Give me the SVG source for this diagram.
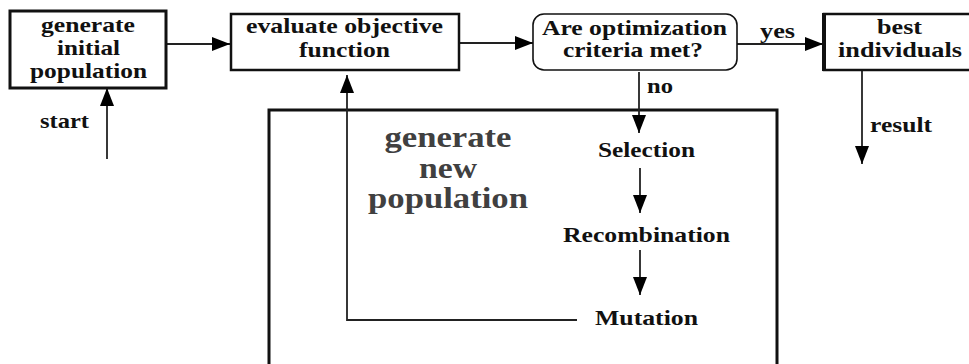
<svg xmlns="http://www.w3.org/2000/svg" width="969" height="364" viewBox="0 0 969 364">
<style>
  .t { font-family: "Liberation Serif", "Times New Roman", serif; font-weight: bold; font-size: 21px; fill: #111; text-anchor: middle; }
  .big { font-size: 29px; fill: #404040; }
  .box { fill: #fff; stroke: #111; }
  .c { fill: none; stroke: #222; stroke-width: 1.8; }
  .a { marker-end: url(#ah); }
</style>
<defs>
  <marker id="ah" markerUnits="userSpaceOnUse" markerWidth="18" markerHeight="14" refX="18" refY="7" orient="auto">
    <path d="M0,0 L18,7 L0,14 z" fill="#000"/>
  </marker>
</defs>
<rect width="969" height="364" fill="#fff"/>

<g id="new-population-frame">
  <rect x="269" y="110" width="508" height="270" fill="none" stroke="#111" stroke-width="3"/>
  <text class="t big" x="448" y="147" textLength="127" lengthAdjust="spacingAndGlyphs">generate</text>
  <text class="t big" x="448" y="178" textLength="58" lengthAdjust="spacingAndGlyphs">new</text>
  <text class="t big" x="448" y="208" textLength="160" lengthAdjust="spacingAndGlyphs">population</text>
</g>

<g id="connectors">
  <line class="c a" x1="107" y1="159" x2="107" y2="88"/>
  <line class="c a" x1="166" y1="44" x2="230" y2="44"/>
  <line class="c a" x1="459" y1="43" x2="533" y2="43"/>
  <line class="c a" x1="737" y1="44" x2="823" y2="44"/>
  <line class="c a" x1="862" y1="70" x2="862" y2="164"/>
  <line class="c a" x1="639" y1="72" x2="639" y2="133"/>
  <line class="c a" x1="640" y1="168" x2="640" y2="213"/>
  <line class="c a" x1="640" y1="250" x2="640" y2="295"/>
  <polyline class="c a" points="577,320 347,320 347,75"/>
  <text class="t" x="64.5" y="128" textLength="49" lengthAdjust="spacingAndGlyphs">start</text>
  <text class="t" x="777.5" y="38" textLength="35" lengthAdjust="spacingAndGlyphs">yes</text>
  <text class="t" x="660" y="93" textLength="26" lengthAdjust="spacingAndGlyphs">no</text>
  <text class="t" x="901" y="132" textLength="62" lengthAdjust="spacingAndGlyphs">result</text>
</g>

<g id="init">
  <rect class="box" x="10" y="11" width="156" height="77" stroke-width="3"/>
  <text class="t" x="88" y="32" textLength="94" lengthAdjust="spacingAndGlyphs">generate</text>
  <text class="t" x="88.5" y="55" textLength="63" lengthAdjust="spacingAndGlyphs">initial</text>
  <text class="t" x="88.5" y="78" textLength="117" lengthAdjust="spacingAndGlyphs">population</text>
</g>

<g id="evaluate">
  <rect class="box" x="231" y="14" width="228" height="56" stroke-width="2.5"/>
  <text class="t" x="344.5" y="33" textLength="197" lengthAdjust="spacingAndGlyphs">evaluate objective</text>
  <text class="t" x="344.5" y="57" textLength="91" lengthAdjust="spacingAndGlyphs">function</text>
</g>

<g id="criteria">
  <rect class="box" x="533" y="14" width="204" height="56" rx="11" ry="11" stroke-width="1.6"/>
  <text class="t" x="634.5" y="35" textLength="185" lengthAdjust="spacingAndGlyphs">Are optimization</text>
  <text class="t" x="633" y="57" textLength="140" lengthAdjust="spacingAndGlyphs">criteria met?</text>
</g>

<g id="best">
  <rect class="box" x="824" y="14" width="150" height="56" stroke-width="2.5"/>
  <line x1="824" y1="13" x2="824" y2="71" stroke="#111" stroke-width="4"/>
  <text class="t" x="899.5" y="34" textLength="45" lengthAdjust="spacingAndGlyphs">best</text>
  <text class="t" x="900" y="57" textLength="124" lengthAdjust="spacingAndGlyphs">individuals</text>
</g>

<g id="selection">
  <text class="t" x="646.5" y="157" textLength="97" lengthAdjust="spacingAndGlyphs">Selection</text>
</g>
<g id="recombination">
  <text class="t" x="646.5" y="242" textLength="167" lengthAdjust="spacingAndGlyphs">Recombination</text>
</g>
<g id="mutation">
  <text class="t" x="646.5" y="325" textLength="103" lengthAdjust="spacingAndGlyphs">Mutation</text>
</g>
</svg>
